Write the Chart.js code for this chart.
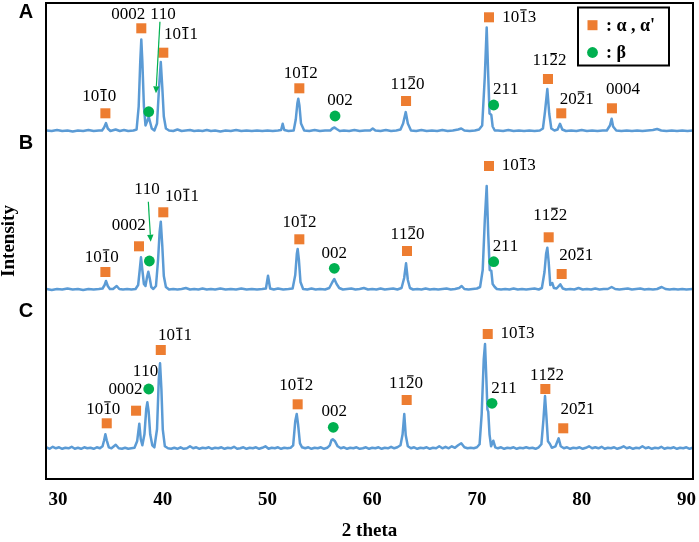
<!DOCTYPE html>
<html>
<head>
<meta charset="utf-8">
<script src="https://cdn.jsdelivr.net/npm/chart.js@4.4.1/dist/chart.umd.min.js"></script>
<style>
html,body{margin:0;padding:0;background:#fff;}
#wrap{width:699px;height:542px;}
</style>
</head>
<body>
<div id="wrap"><canvas id="c" width="699" height="542"></canvas></div>
<script>
// ---- axis ----
const X_TICKS = [30, 40, 50, 60, 70, 80, 90];
const PANELS = ['A', 'B', 'C'];
const PANEL_LABEL_Y = [466.3, 335.7, 167.3];
const OFFSETS = [347.5, 189, 29.7];

// ---- diffraction traces [2theta, intensity above baseline] ----
const TRACE_A = [[28.9,1],[29.4,0.5],[29.9,1.5],[30.4,0.5],[30.9,1],[31.4,0],[31.9,1],[32.4,0.5],[32.9,1.5],[33.4,0.5],[33.9,1],[34.2,1],[34.4,4],[34.58,8.4],[34.75,3],[35.0,0.5],[35.5,2],[35.9,0.5],[36.3,1.5],[36.7,0.5],[37.2,1],[37.5,2],[37.7,25],[37.85,70],[37.95,92],[38.05,70],[38.2,25],[38.35,6],[38.5,10],[38.66,14.7],[38.8,9],[38.95,3],[39.2,1],[39.45,8],[39.65,45],[39.81,69.4],[39.95,45],[40.1,15],[40.3,3],[40.6,1],[41.0,0.5],[41.4,2],[41.8,0.5],[42.2,1],[42.6,1.5],[43.0,0.5],[43.4,1],[43.8,0.5],[44.2,1.5],[44.6,0.5],[45.0,1],[45.5,0],[46.0,1],[46.5,0.5],[47.0,1.5],[47.5,0.5],[48.0,1],[48.5,0.5],[49.0,1],[49.5,0.5],[50.0,1],[50.5,0.5],[51.0,1],[51.3,1.5],[51.45,7.7],[51.6,1.5],[52.0,0.5],[52.5,1],[52.7,12],[52.85,28],[52.94,32.7],[53.05,26],[53.2,8],[53.5,1],[54.0,0.5],[54.5,1.5],[55.0,0.5],[55.5,1],[56.0,1],[56.2,3],[56.4,4],[56.6,2.5],[56.9,0.5],[57.3,1],[57.8,0.5],[58.3,1.5],[58.8,0.5],[59.3,1],[59.8,1],[60.05,3],[60.3,1],[60.8,0.5],[61.3,1.5],[61.8,0.5],[62.3,1],[62.7,2],[62.95,8],[63.2,19.4],[63.4,8],[63.7,1],[64.2,0.5],[64.7,1.5],[65.2,0.5],[65.7,1],[66.2,0.5],[66.7,1.5],[67.2,0.5],[67.7,1],[68.2,2],[68.5,3],[68.8,1],[69.3,0.5],[69.8,1],[70.2,2],[70.5,6],[70.75,55],[70.93,104],[71.08,55],[71.2,18],[71.37,16.7],[71.5,5],[71.7,1],[72.0,1],[72.5,0.5],[73.0,1.5],[73.5,0.5],[74.0,1],[74.5,0.5],[75.0,1],[75.5,0.5],[76.0,1],[76.3,3],[76.5,20],[76.72,42.4],[76.9,18],[77.1,3],[77.4,1],[77.7,2],[77.93,7.7],[78.15,2],[78.5,0.5],[79.0,1],[79.5,0.5],[80.0,1.5],[80.5,0.5],[81.0,1],[81.5,0.5],[82.0,1],[82.4,1],[82.7,6],[82.86,12.7],[83.0,5],[83.3,1],[83.8,0.5],[84.3,1],[84.8,0.5],[85.3,1],[85.8,0.5],[86.3,1],[86.8,1.5],[87.2,2.5],[87.6,1],[88.1,0.5],[88.6,1],[89.1,0.5],[89.6,1],[90.1,0.5],[90.6,1]];

const TRACE_B = [[28.9,1],[29.4,0],[29.9,1],[30.4,0.5],[30.9,1.5],[31.4,0.5],[31.9,1],[32.4,0],[32.9,1],[33.4,0.5],[33.9,1],[34.25,1.5],[34.45,5],[34.58,9],[34.75,4],[34.95,1],[35.25,1],[35.6,4],[35.85,1],[36.2,0.5],[36.6,1],[37.0,0.5],[37.4,1],[37.65,5],[37.8,20],[37.92,32.7],[38.05,20],[38.2,6],[38.35,4],[38.5,13],[38.62,18.3],[38.75,12],[38.9,3],[39.1,1],[39.35,4],[39.55,30],[39.7,58],[39.81,68.3],[39.95,45],[40.1,14],[40.3,3],[40.6,0.5],[41.0,1],[41.4,0.5],[41.8,1],[42.2,2],[42.6,0.5],[43.0,1],[43.4,0.5],[43.8,1.5],[44.2,0.5],[44.6,1],[45.0,0.5],[45.5,1.5],[46.0,0.5],[46.5,1],[47.0,0.5],[47.5,1.5],[48.0,0.5],[48.5,1],[49.0,0.5],[49.5,1],[49.85,1.5],[50.05,14.3],[50.25,1.5],[50.6,0.5],[51.0,1.5],[51.5,0.5],[52.0,1],[52.4,1.5],[52.65,15],[52.8,36],[52.88,41],[53.0,30],[53.15,8],[53.4,1],[53.8,0.5],[54.2,1.5],[54.6,0.5],[55.0,1],[55.5,0.5],[55.9,2],[56.2,8],[56.38,11],[56.6,6],[56.85,2],[57.2,0.5],[57.6,1],[58.0,1.5],[58.4,0.5],[58.8,1],[59.2,2],[59.6,0.5],[60.0,1],[60.4,0.5],[60.8,1.5],[61.2,0.5],[61.6,1],[62.0,1.5],[62.4,0.5],[62.8,2],[63.05,12],[63.23,26.7],[63.4,10],[63.6,2],[63.9,0.5],[64.3,1],[64.7,0.5],[65.1,1.5],[65.5,0.5],[65.9,1],[66.3,0.5],[66.7,1],[67.1,1.5],[67.5,0.5],[67.9,1],[68.3,2],[68.54,4],[68.8,1],[69.2,0.5],[69.6,1],[70.0,1.5],[70.3,3],[70.55,20],[70.75,70],[70.93,104],[71.08,55],[71.22,20],[71.37,19.3],[71.5,6],[71.7,3],[71.9,1],[72.3,0.5],[72.7,1],[73.1,0.5],[73.5,1.5],[73.9,0.5],[74.3,1],[74.7,0.5],[75.1,1],[75.5,1.5],[75.9,0.5],[76.2,2],[76.45,18],[76.6,36],[76.72,42.3],[76.85,28],[77.0,5],[77.19,7],[77.35,2],[77.6,1.5],[77.96,5.7],[78.2,1.5],[78.5,0.5],[78.9,1],[79.3,0.5],[79.7,2],[80.1,0.5],[80.5,1],[80.9,0.5],[81.3,1.5],[81.7,0.5],[82.1,1],[82.5,1],[82.86,3],[83.2,1],[83.6,0.5],[84.0,1],[84.4,1.5],[84.8,0.5],[85.2,1],[85.6,1.5],[86.0,0.5],[86.4,1],[86.8,0.5],[87.2,1],[87.64,3],[88.0,1],[88.4,0.5],[88.8,1],[89.2,0.5],[89.6,1],[90.0,0.5],[90.6,1]];

const TRACE_C = [[28.9,2],[29.2,0.5],[29.5,2.5],[29.8,1],[30.1,2],[30.4,0.5],[30.7,1.5],[31.0,1],[31.3,2.5],[31.6,0.5],[31.9,1.5],[32.2,0.5],[32.5,2],[32.8,1],[33.1,1.5],[33.4,0.5],[33.7,2],[34.0,1],[34.25,3],[34.4,9],[34.52,15],[34.65,9],[34.85,2],[35.1,1],[35.51,4.5],[35.8,1],[36.1,0.5],[36.4,1.5],[36.7,0.5],[37.0,1],[37.3,1.5],[37.55,8],[37.76,25.6],[37.9,10],[38.05,4],[38.25,15],[38.42,40],[38.53,47],[38.65,38],[38.8,15],[39.0,4],[39.2,2],[39.45,20],[39.62,70],[39.74,86],[39.87,60],[40.0,20],[40.2,3],[40.5,1],[40.8,0.5],[41.1,1.5],[41.4,0.5],[41.7,2],[42.0,0.5],[42.3,1],[42.6,3],[42.9,1],[43.2,2],[43.5,0.5],[43.8,1.5],[44.1,1],[44.4,2],[44.7,0.5],[45.0,1.5],[45.3,1],[45.6,2],[45.9,0.5],[46.2,1.5],[46.5,1],[46.8,2.5],[47.1,0.5],[47.4,1],[47.7,2],[48.0,0.5],[48.3,1.5],[48.6,1],[48.9,2],[49.2,0.5],[49.5,1.5],[49.8,3],[50.1,0.5],[50.4,1.5],[50.7,1],[51.0,2],[51.3,0.5],[51.6,1.5],[51.9,1],[52.2,1.5],[52.45,4],[52.65,28],[52.79,35.3],[52.92,25],[53.1,6],[53.3,2],[53.6,1],[53.9,2],[54.2,0.5],[54.5,1.5],[54.8,1],[55.1,2],[55.4,0.5],[55.7,1.5],[55.95,4],[56.1,9],[56.23,10],[56.45,8],[56.7,3],[57.0,1],[57.3,2],[57.6,0.5],[57.9,1.5],[58.2,1],[58.5,2],[58.8,0.5],[59.1,1],[59.4,2],[59.7,0.5],[60.0,1.5],[60.3,1],[60.6,2],[60.9,0.5],[61.2,1.5],[61.5,1],[61.8,2.5],[62.1,1],[62.4,2],[62.7,4],[62.9,15],[63.06,35.3],[63.2,14],[63.4,3],[63.7,1],[64.0,2],[64.3,0.5],[64.6,1.5],[64.9,1],[65.2,2],[65.5,0.5],[65.8,1.5],[66.1,1],[66.4,3],[66.7,1],[67.0,2.5],[67.3,1],[67.6,3],[67.9,1.5],[68.2,4],[68.5,6],[68.8,2],[69.1,1],[69.4,1.5],[69.7,1],[70.0,2],[70.25,5],[70.45,35],[70.65,90],[70.77,105.3],[70.9,70],[71.0,40],[71.08,37.6],[71.2,15],[71.35,3],[71.56,8.6],[71.75,2],[72.0,1],[72.3,2],[72.6,0.5],[72.9,1.5],[73.2,1],[73.5,2],[73.8,0.5],[74.1,1.5],[74.4,1],[74.7,2],[75.0,1],[75.3,1.5],[75.6,0.5],[75.9,2],[76.15,5],[76.35,30],[76.5,53.3],[76.62,35],[76.78,8],[76.97,5.3],[77.15,1.5],[77.5,3],[77.8,11],[78.0,3],[78.3,1],[78.6,2],[78.9,0.5],[79.2,1.5],[79.5,1],[79.8,2],[80.1,0.5],[80.4,1.5],[80.7,3],[81.0,1],[81.3,2],[81.6,1],[81.9,2.5],[82.2,0.5],[82.5,1.5],[82.8,1],[83.1,2],[83.4,0.5],[83.7,1.5],[84.0,3],[84.3,1],[84.6,2],[84.9,0.5],[85.2,1.5],[85.5,1],[85.8,3],[86.1,1],[86.4,2],[86.7,0.5],[87.0,1.5],[87.3,1],[87.6,2.5],[87.9,0.5],[88.2,1.5],[88.5,1],[88.8,2],[89.1,0.5],[89.4,1.5],[89.7,1],[90.0,2],[90.3,0.5],[90.6,1.5]];

// ---- phase markers [2theta, stacked height] ----
const ALPHA_MARKS = [
  [34.52,365.7],[37.95,450.7],[40.05,426.3],[53.04,390.7],[63.23,378],[71.15,461.7],[76.78,400],[78.05,365.7],[82.89,370.7],
  [34.52,207],[37.73,232.7],[40.05,266.7],[53.04,239.7],[63.32,228],[71.15,313],[76.85,241.7],[78.09,205],
  [34.65,55.7],[37.45,68.3],[39.81,129],[52.88,74.7],[63.29,79],[71.03,145],[76.53,90],[78.24,50.7]
];
const BETA_MARKS = [
  [38.66,367.3],[56.45,363],[71.60,374],
  [38.72,218],[56.38,210.7],[71.60,217.3],
  [38.66,90],[56.28,51.7],[71.44,75.7]
];

// ---- reflection labels [text, 2theta, stacked height] ----
const HKL_LABELS = [
  ['101\u03050',33.93,382],['0002',36.71,464.7],['110',40.0,464.7],['101\u03051',41.71,444],['101\u03052',53.18,405],['002',56.92,378],
  ['112\u03050',63.34,394.7],['101\u03053',74.03,461.7],['211',72.72,389],['112\u03052',76.89,418],['202\u03051',79.53,379.7],['0004',83.94,389],
  ['101\u03050',34.18,221.7],['0002',36.76,253],['110',38.47,289.7],['101\u03051',41.80,282.3],['101\u03052',53.06,256.3],['002',56.38,225],
  ['112\u03050',63.34,244.7],['101\u03053',73.99,313],['211',72.70,232.3],['112\u03052',76.97,263.3],['202\u03051',79.47,223.3],
  ['101\u03050',34.31,69.7],['0002',36.44,89],['110',38.31,107.3],['101\u03051',41.14,143.3],['101\u03052',52.75,93.3],['002',56.38,67.3],
  ['112\u03050',63.2,95.7],['101\u03053',73.87,145],['211',72.55,90],['112\u03052',76.65,103.3],['202\u03051',79.60,69]
];
// arrows pointing at the beta 110 reflection [from, to]
const ARROWS = [
  [[39.73,457.3],[39.35,385.7]],
  [[38.62,277.3],[38.85,237.3]]
];
const LEGEND_ITEMS = [': \u03b1 , \u03b1\'', ': \u03b2'];

const BLUE = '#5B9BD5', ORANGE = '#ED7D31', GREEN = '#00B050';

function toXY(arr, off) { return arr.map(p => ({x: p[0], y: off + p[1]})); }
const traces = [TRACE_A, TRACE_B, TRACE_C];

const datasets = [
  {label: 'α , α\'', data: ALPHA_MARKS.map(p => ({x: p[0], y: p[1]})), pointStyle: 'rect', pointRadius: 7.1, pointHoverRadius: 7.1,
   backgroundColor: ORANGE, borderColor: ORANGE, borderWidth: 0, showLine: false, order: 0},
  {label: 'β', data: BETA_MARKS.map(p => ({x: p[0], y: p[1]})), pointStyle: 'circle', pointRadius: 5.4, pointHoverRadius: 5.4,
   backgroundColor: GREEN, borderColor: GREEN, borderWidth: 0, showLine: false, order: 0}
];
traces.forEach((t, i) => datasets.push({
  label: PANELS[i], data: toXY(t, OFFSETS[i]), showLine: true, borderColor: BLUE, borderWidth: 2.5,
  pointRadius: 0, tension: 0, order: 1, borderJoinStyle: 'round'
}));

function drawHkl(ctx, str, cx, cy) {
  const chars = [];
  for (const ch of str) {
    if (ch === '\u0305') chars[chars.length - 1].bar = true;
    else chars.push({ch, bar: false});
  }
  const plain = chars.map(c => c.ch).join('');
  let x = cx - ctx.measureText(plain).width / 2;
  ctx.textAlign = 'left';
  ctx.textBaseline = 'middle';
  for (const c of chars) {
    const w = ctx.measureText(c.ch).width;
    ctx.fillText(c.ch, x, cy);
    if (c.bar) ctx.fillRect(x + 1, cy - 8, w - 2, 1.1);
    x += w;
  }
}

const overlay = {
  id: 'overlay',
  afterDatasetsDraw(chart) {
    const {ctx, chartArea: a, scales: {x, y}} = chart;
    ctx.save();
    // frame
    ctx.strokeStyle = '#000'; ctx.lineWidth = 2;
    ctx.strokeRect(a.left, a.top, a.right - a.left, a.bottom - a.top);
    // panel letters
    ctx.fillStyle = '#000';
    ctx.font = 'bold 20px "Liberation Sans", Arial, sans-serif';
    ctx.textAlign = 'center'; ctx.textBaseline = 'middle';
    PANELS.forEach((p, i) => ctx.fillText(p, a.left - 20, y.getPixelForValue(PANEL_LABEL_Y[i])));
    // hkl labels
    ctx.font = '17px "Liberation Serif", "Times New Roman", serif';
    HKL_LABELS.forEach(l => drawHkl(ctx, l[0], x.getPixelForValue(l[1]), y.getPixelForValue(l[2])));
    // arrows
    ctx.strokeStyle = GREEN; ctx.fillStyle = GREEN; ctx.lineWidth = 1.2;
    ARROWS.forEach(ar => {
      const x1 = x.getPixelForValue(ar[0][0]), y1 = y.getPixelForValue(ar[0][1]);
      const x2 = x.getPixelForValue(ar[1][0]), y2 = y.getPixelForValue(ar[1][1]);
      const ang = Math.atan2(y2 - y1, x2 - x1), L = 7, W = 3.2;
      const bx = x2 - L * Math.cos(ang), by = y2 - L * Math.sin(ang);
      ctx.beginPath(); ctx.moveTo(x1, y1); ctx.lineTo(bx, by); ctx.stroke();
      ctx.beginPath();
      ctx.moveTo(x2, y2);
      ctx.lineTo(bx + W * Math.sin(ang), by - W * Math.cos(ang));
      ctx.lineTo(bx - W * Math.sin(ang), by + W * Math.cos(ang));
      ctx.closePath(); ctx.fill();
    });
    // legend
    const lx = a.right - 115, ly = a.top + 4.5, lw = 91, lh = 58;
    ctx.fillStyle = '#fff'; ctx.fillRect(lx, ly, lw, lh);
    ctx.strokeStyle = '#000'; ctx.lineWidth = 2; ctx.strokeRect(lx, ly, lw, lh);
    ctx.fillStyle = ORANGE; ctx.fillRect(lx + 9.5, ly + 12.7, 10, 10);
    ctx.fillStyle = GREEN; ctx.beginPath(); ctx.arc(lx + 14.5, ly + 45, 5.4, 0, Math.PI * 2); ctx.fill();
    ctx.fillStyle = '#000';
    ctx.font = 'bold 18px "Liberation Serif", "Times New Roman", serif';
    ctx.textAlign = 'left'; ctx.textBaseline = 'middle';
    ctx.fillText(LEGEND_ITEMS[0], lx + 28, ly + 18.5);
    ctx.fillText(LEGEND_ITEMS[1], lx + 28, ly + 45.5);
    ctx.restore();
  }
};

const serifBold = {family: '"Liberation Serif", "Times New Roman", serif', size: 19, weight: 'bold', lineHeight: 1.2};
function zeroPad(s) { s.paddingLeft = 0; s.paddingRight = 0; s.paddingTop = 0; s.paddingBottom = 0; }

new Chart(document.getElementById('c'), {
  type: 'scatter',
  data: {datasets},
  options: {
    responsive: false,
    animation: false,
    devicePixelRatio: 1,
    layout: {autoPadding: false, padding: {left: 0, top: 3, right: 6, bottom: 0}},
    plugins: {legend: {display: false}, tooltip: {enabled: false}},
    scales: {
      x: {
        type: 'linear', min: 28.85, max: 90.63,
        afterBuildTicks: s => { s.ticks = X_TICKS.map(v => ({value: v})); },
        afterFit: s => { s.height = 63; zeroPad(s); },
        grid: {display: false, drawTicks: false},
        border: {display: false},
        ticks: {color: '#000', font: serifBold, padding: 10},
        title: {display: true, text: '2 theta', color: '#000', font: serifBold, padding: {top: 7, bottom: 0}}
      },
      y: {
        min: 0, max: 476,
        afterFit: s => { s.width = 46; zeroPad(s); },
        grid: {display: false, drawTicks: false},
        border: {display: false},
        ticks: {display: false},
        title: {display: true, text: 'Intensity', color: '#000',
                font: {family: '"Liberation Serif", "Times New Roman", serif', size: 19, weight: 'bold', lineHeight: 1},
                padding: {top: 0, bottom: 27}}
      }
    }
  },
  plugins: [overlay]
});
</script>
</body>
</html>
